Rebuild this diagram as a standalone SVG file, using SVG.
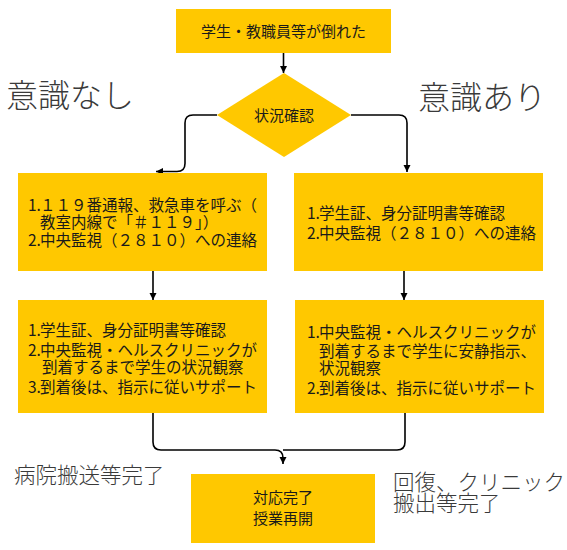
<svg xmlns="http://www.w3.org/2000/svg" width="567" height="550" viewBox="0 0 567 550">
<style>
.box{fill:#FFC800;}
.t{font-family:"Noto Sans CJK JP","Liberation Sans",sans-serif;font-size:15.5px;fill:#1a1a1a;}
.c{text-anchor:middle;font-size:15px;}
.big{font-family:"Liberation Serif","Noto Sans CJK JP",serif;font-size:32px;fill:#3a3a3a;font-weight:300;}
.mid{font-family:"Liberation Serif","Noto Sans CJK JP",serif;font-size:21.5px;fill:#3a3a3a;font-weight:300;}
.ln{fill:none;stroke:#000;stroke-width:1.6;}
</style>
<defs>
<marker id="ah" markerUnits="userSpaceOnUse" markerWidth="8" markerHeight="8" refX="7" refY="4" orient="auto">
<path d="M0,0.5 L7,4 L0,7.5 z" fill="#000"/>
</marker>
</defs>
<rect width="567" height="550" fill="#fff"/>

<g id="connectors">
<path class="ln" d="M283.5,53 V73" marker-end="url(#ah)"/>
<path class="ln" d="M217,115 H193 Q185,115 185,123 V163.5 Q185,171.5 177,171.5 H156" marker-end="url(#ah)"/>
<path class="ln" d="M351,115 H399 Q407,115 407,123 V172" marker-end="url(#ah)"/>
<path class="ln" d="M153,271 V300" marker-end="url(#ah)"/>
<path class="ln" d="M404,271 V300" marker-end="url(#ah)"/>
<path class="ln" d="M153,413 V442 Q153,450 161,450 H275 Q283,450 283,458 V464" marker-end="url(#ah)"/>
<path class="ln" d="M405,413 V442 Q405,450 397,450 H283"/>
</g>

<g id="n-start">
<rect class="box" x="176" y="9" width="215" height="44"/>
<text class="t c" x="283.5" y="36.5">学生・教職員等が倒れた</text>
</g>

<g id="n-check">
<polygon class="box" points="284,73 351,115 284,157 217,115"/>
<text class="t c" x="284" y="120.5">状況確認</text>
</g>

<g id="n-left1">
<rect class="box" x="18" y="173" width="249" height="98"/>
<text class="t"><tspan x="28" y="211">1.</tspan><tspan x="40" y="211">１１９番通報、救急車を呼ぶ（</tspan><tspan x="40" y="228">教室内線で「＃１１９」）</tspan><tspan x="28" y="246">2.</tspan><tspan x="40" y="246">中央監視（２８１０）への連絡</tspan></text>
</g>

<g id="n-right1">
<rect class="box" x="294" y="173" width="249" height="98"/>
<text class="t"><tspan x="307" y="219">1.</tspan><tspan x="319" y="219">学生証、身分証明書等確認</tspan><tspan x="307" y="239">2.</tspan><tspan x="319" y="239">中央監視（２８１０）への連絡</tspan></text>
</g>

<g id="n-left2">
<rect class="box" x="18" y="300" width="249" height="113"/>
<text class="t"><tspan x="28" y="336">1.</tspan><tspan x="40" y="336">学生証、身分証明書等確認</tspan><tspan x="28" y="356">2.</tspan><tspan x="40" y="356">中央監視・ヘルスクリニックが</tspan><tspan x="42" y="373">到着するまで学生の状況観察</tspan><tspan x="28" y="393">3.</tspan><tspan x="40" y="393">到着後は、指示に従いサポート</tspan></text>
</g>

<g id="n-right2">
<rect class="box" x="295" y="300" width="249" height="113"/>
<text class="t"><tspan x="307" y="338">1.</tspan><tspan x="319" y="338">中央監視・ヘルスクリニックが</tspan><tspan x="319" y="357">到着するまで学生に安静指示、</tspan><tspan x="319" y="374">状況観察</tspan><tspan x="307" y="394">2.</tspan><tspan x="319" y="394">到着後は、指示に従いサポート</tspan></text>
</g>

<g id="n-end">
<rect class="box" x="191" y="474" width="184" height="69"/>
<text class="t c"><tspan x="283" y="503">対応完了</tspan><tspan x="283" y="524">授業再開</tspan></text>
</g>

<g id="labels">
<text class="big" x="6" y="107">意識なし</text>
<text class="big" x="418" y="109">意識あり</text>
<text class="mid" x="14" y="483">病院搬送等完了</text>
<text class="mid"><tspan x="393" y="490">回復、クリニック</tspan><tspan x="393" y="511">搬出等完了</tspan></text>
</g>
</svg>
